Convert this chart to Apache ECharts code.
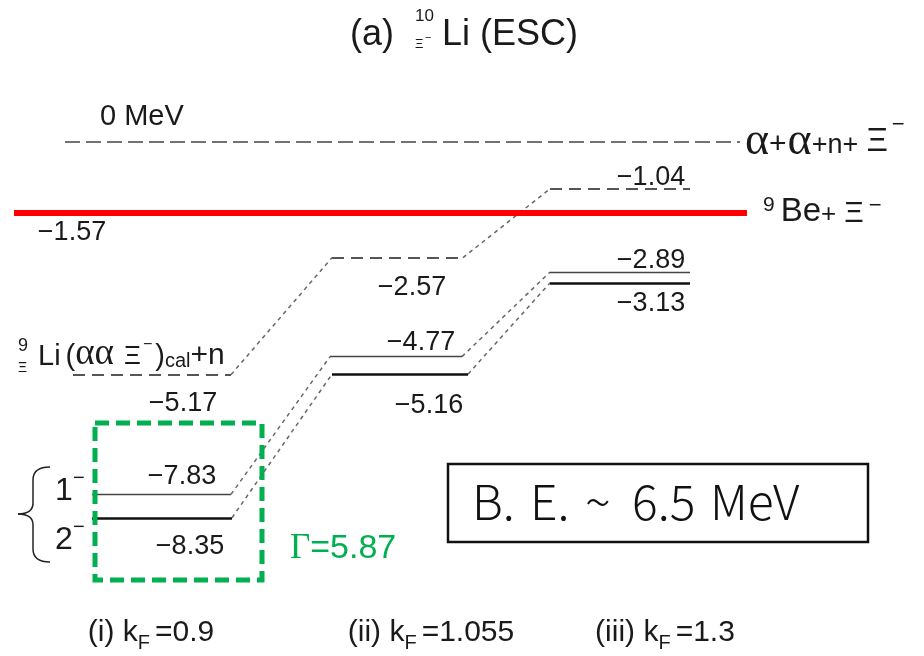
<!DOCTYPE html>
<html><head><meta charset="utf-8">
<script src="https://cdn.jsdelivr.net/npm/echarts@6/dist/echarts.min.js"></script>
<style>html,body{margin:0;padding:0;background:#fff}#c{width:924px;height:656px}</style>
</head><body><div id="c"></div>
<script>
// ---------------- data ----------------
const columns = ['(i)', '(ii)', '(iii)'];
const kF = ['0.9', '1.055', '1.3'];
const xiThreshold = [-5.17, -2.57, -1.04];   // 9ΞLi(ααΞ−)cal + n
const state1 = [-7.83, -4.77, -2.89];        // 1−
const state2 = [-8.35, -5.16, -3.13];        // 2−
const breakupThreshold = 0;                  // α+α+n+Ξ−
const beThreshold = -1.57;                   // 9Be+Ξ−
const gammaWidth = '5.87';
const bindingEnergy = '6.5';

// ---------------- layout ----------------
const SANS = '"Liberation Sans", Arial, sans-serif';
const SERIF = '"Liberation Serif", "Times New Roman", serif';
const CJK = '"Noto Sans CJK JP", sans-serif';
const PX_PER_MEV = 45, ZERO_PX = 142, H = 656, W = 924;
const colSpan = {
  xi: [[73, 231], [332, 463], [550, 690]],
  s1: [[92, 231], [330, 462], [550, 690]],
  s2: [[92, 232], [332, 468], [550, 690]]
};
const labelPos = {
  xi: {x: [183, 412, 651], dy: [28.5, 29.5, -11]},
  s1: {x: [182, 421, 651], dy: [-17.5, -14.5, -12]},
  s2: {x: [190, 429, 651], dy: [29, 31, 21]}
};

const fmt = v => (v < 0 ? '\u2212' : '') + Math.abs(v).toFixed(2);

// ---------------- text helpers ----------------
const mctx = document.createElement('canvas').getContext('2d');
function tw(t, s, f, wt) { mctx.font = (wt || 'normal') + ' ' + s + 'px ' + f; return mctx.measureText(t).width; }
function txt(t, x, y, s, f, c, align, wt) {
  return {type: 'text', x: x, y: y, z: 50, silent: true,
    style: {text: t, fontSize: s, fontFamily: f || SANS, fill: c || '#1a1a1a', fontWeight: wt || 'normal',
      textAlign: align || 'left', textVerticalAlign: 'middle', verticalAlign: 'middle'}};
}
function flow(parts, x, y, align, color) {
  const ws = parts.map(p => tw(p.t, p.s, p.f || SANS) + (p.g || 0));
  const total = ws.reduce((a, b) => a + b, 0);
  let cx = align === 'center' ? x - total / 2 : (align === 'right' ? x - total : x);
  return parts.map((p, i) => { const e = txt(p.t, cx, y + (p.dy || 0), p.s, p.f || SANS, p.c || color); cx += ws[i]; return e; });
}

// ---------------- series ----------------
const levelItems = [], connItems = [], labelData = [];
function addSet(key, vals, dashed, width, color) {
  vals.forEach((v, i) => {
    const [x0, x1] = colSpan[key][i];
    levelItems.push({coords: [[x0, v], [x1, v]],
      lineStyle: {color: color, width: width, type: dashed ? [12, 7] : 'solid', opacity: 1}});
    if (i < vals.length - 1) {
      connItems.push({coords: [[x1, v], [colSpan[key][i + 1][0], vals[i + 1]]]});
    }
    labelData.push({value: [labelPos[key].x[i], v], label: {offset: [0, labelPos[key].dy[i]]}});
  });
}
addSet('xi', xiThreshold, true, 1.8, '#555');
addSet('s1', state1, false, 1.4, '#444');
addSet('s2', state2, false, 2.6, '#111');
labelData.push({value: [72, beThreshold], label: {offset: [0, 19.5]}});

const graphics = [];
// title
graphics.push(txt('(a)', 350, 35, 36));
graphics.push(txt('10', 415, 16, 17));
graphics.push(txt('\u039E', 415, 44, 13));
graphics.push(txt('\u2212', 425, 38, 11));
graphics.push(txt('Li (ESC)', 442, 35, 36));
// 0 MeV
graphics.push(txt('0 MeV', 100, 117, 29));
// α+α+n+Ξ−
graphics.push(...flow([
  {t: '\u03B1', s: 46, f: SERIF}, {t: '+', s: 30, g: 1, dy: 3}, {t: '\u03B1', s: 46, f: SERIF},
  {t: '+n+', s: 27, dy: 4}, {t: ' ', s: 22, g: 2}, {t: '\u039E', s: 33, g: 4}, {t: '\u2212', s: 22, dy: -17}
], 745, 142, 'left'));
// 9Be+Ξ−
graphics.push(...flow([
  {t: '9', s: 21, dy: -7, g: 6}, {t: 'Be', s: 33}, {t: '+', s: 26, dy: 3, g: 8},
  {t: '\u039E', s: 30, dy: 2, g: 5}, {t: '\u2212', s: 22, dy: -6}
], 763, 212, 'left'));
// 9ΞLi(ααΞ−)cal+n
graphics.push(txt('9', 18, 346, 18));
graphics.push(txt('\u039E', 18, 368, 14));
graphics.push(...flow([
  {t: 'Li', s: 29, g: 5}, {t: '(', s: 29}, {t: '\u03B1\u03B1', s: 37, f: SERIF, g: 10, dy: -3},
  {t: '\u039E', s: 26, g: 2}, {t: '\u2212', s: 16, dy: -12, g: 3}, {t: ')', s: 29}, {t: 'cal', s: 20, dy: 4},
  {t: '+n', s: 30, dy: -1}
], 38, 357, 'left'));
// brace
const braceStyle = {stroke: '#222', lineWidth: 1.5, fill: null};
[[50, 467, 33, 467, 33, 480], [33, 503, 33, 514, 18, 514], [18, 514, 33, 514, 33, 525], [33, 549, 33, 562, 50, 562]]
  .forEach(b => graphics.push({type: 'bezierCurve', z: 40, silent: true,
    shape: {x1: b[0], y1: b[1], cpx1: b[2], cpy1: b[3], x2: b[4], y2: b[5]}, style: braceStyle}));
[[33, 480, 33, 503], [33, 525, 33, 549]].forEach(l => graphics.push({type: 'line', z: 40, silent: true,
  shape: {x1: l[0], y1: l[1], x2: l[2], y2: l[3]}, style: braceStyle}));
graphics.push(txt('1', 55, 491, 32));
graphics.push(txt('\u2212', 73, 478, 20));
graphics.push(txt('2', 55, 540, 32));
graphics.push(txt('\u2212', 73, 527, 20));
// green box + Γ
graphics.push({type: 'rect', z: 60, silent: true, shape: {x: 95, y: 423, width: 167, height: 157},
  style: {stroke: '#00b050', lineWidth: 5, lineDash: [14, 7], fill: null}});
graphics.push(...flow([
  {t: '\u0393', s: 35, f: SERIF}, {t: '=' + gammaWidth, s: 34}
], 290, 549, 'left', '#00b050'));
// binding energy box
graphics.push({type: 'rect', z: 60, silent: true, shape: {x: 448, y: 464, width: 420, height: 78},
  style: {stroke: '#111', lineWidth: 2.5, fill: '#fff'}});
const beParts = ['B.', 'E.', '~', bindingEnergy, 'MeV'];
const beX = [472, 530, 585, 632, 710];
beParts.forEach((t, i) => graphics.push(Object.assign(txt(t, beX[i], 502, 48, CJK, '#111', 'left', 300), {z: 61})));
// bottom column labels
const colCenters = [151, 431, 665];
columns.forEach((c, i) => {
  graphics.push(...flow([
    {t: c + ' k', s: 30}, {t: 'F', s: 20, dy: 10, g: 5}, {t: '=' + kF[i], s: 30}
  ], colCenters[i], 633, 'center'));
});

const option = {
  animation: false,
  grid: {left: 0, right: 0, top: 0, bottom: 0},
  xAxis: {type: 'value', min: 0, max: W, show: false},
  yAxis: {type: 'value', min: -(H - ZERO_PX) / PX_PER_MEV, max: ZERO_PX / PX_PER_MEV, show: false},
  series: [
    {type: 'lines', coordinateSystem: 'cartesian2d', silent: true, z: 2,
      lineStyle: {color: '#666', width: 1.5, type: [4, 4], opacity: 1},
      data: connItems},
    {type: 'lines', coordinateSystem: 'cartesian2d', silent: true, z: 3,
      data: [{coords: [[65, breakupThreshold], [740, breakupThreshold]]}],
      lineStyle: {color: '#444', width: 1.5, type: [15, 6], opacity: 1}},
    {type: 'lines', coordinateSystem: 'cartesian2d', silent: true, z: 4,
      data: [{coords: [[14, beThreshold], [747, beThreshold]]}],
      lineStyle: {color: '#ff0000', width: 6, type: 'solid', opacity: 1}},
    {type: 'lines', coordinateSystem: 'cartesian2d', silent: true, z: 5, data: levelItems},
    {type: 'scatter', silent: true, z: 6, symbolSize: 0, data: labelData,
      itemStyle: {opacity: 1},
      label: {show: true, position: 'inside', formatter: p => fmt(p.value[1]), opacity: 1,
        fontSize: 27, fontFamily: SANS, color: '#1a1a1a', textBorderWidth: 0}}
  ],
  graphic: graphics
};
echarts.init(document.getElementById('c'), null, {renderer: 'canvas'}).setOption(option);
</script>
</body></html>
